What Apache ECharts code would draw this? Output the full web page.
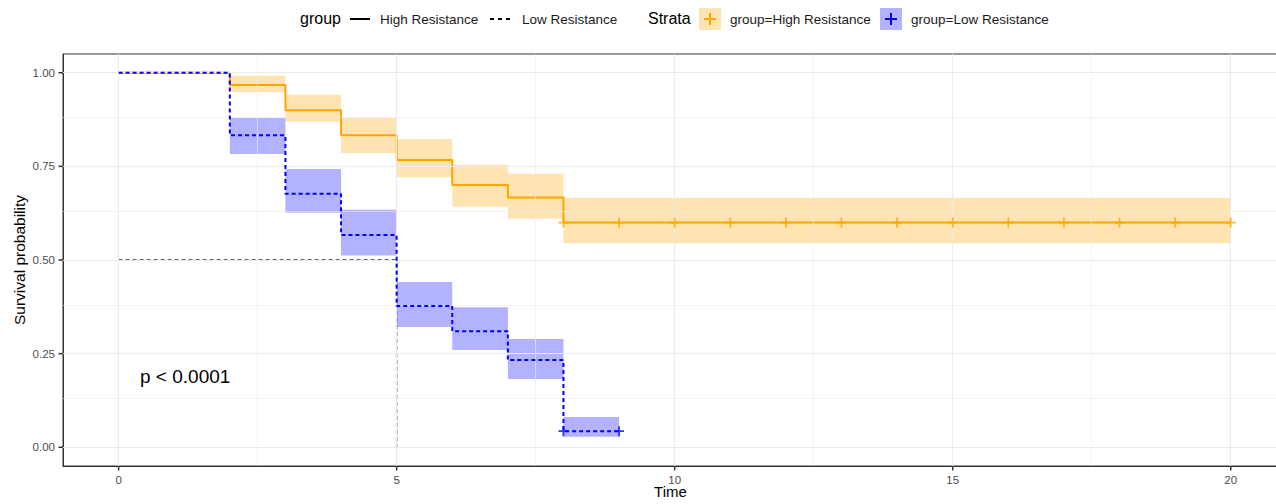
<!DOCTYPE html>
<html>
<head>
<meta charset="utf-8">
<script src="https://cdn.jsdelivr.net/npm/echarts@6/dist/echarts.min.js"></script>
<style>
html,body{margin:0;padding:0;background:#fff;}
#chart{width:1276px;height:504px;}
</style>
</head>
<body>
<div id="chart"></div>
<script>
// ---- Data ----
const highTimes = [0, 2, 3, 4, 5, 6, 7, 8, 20];
const highSurv  = [1, 0.967, 0.9, 0.833, 0.767, 0.7, 0.667, 0.6, 0.6];
const highBandStart = [2, 3, 4, 5, 6, 7, 8];
const highBandEnd   = [3, 4, 5, 6, 7, 8, 20];
const highLower = [0.948, 0.869, 0.786, 0.721, 0.642, 0.610, 0.545];
const highUpper = [0.992, 0.941, 0.879, 0.823, 0.754, 0.730, 0.666];
const highCensorTimes = [8, 9, 10, 11, 12, 13, 14, 15, 16, 17, 18, 19, 20];

const lowTimes = [0, 2, 3, 4, 5, 6, 7, 8, 9];
const lowSurv  = [1, 0.833, 0.677, 0.567, 0.377, 0.31, 0.233, 0.043, 0.043];
const lowBandStart = [2, 3, 4, 5, 6, 7, 8];
const lowBandEnd   = [3, 4, 5, 6, 7, 8, 9];
const lowLower = [0.783, 0.626, 0.512, 0.321, 0.260, 0.182, 0.028];
const lowUpper = [0.879, 0.743, 0.634, 0.441, 0.374, 0.289, 0.081];
const lowCensorTimes = [8, 9];

const medianTimes = [0, 5, 5];
const medianSurv  = [0.5, 0.5, 0];

const xTicks = [0, 5, 10, 15, 20];
const xMinorTicks = [2.5, 7.5, 12.5, 17.5];
const yTicks = [0, 0.25, 0.5, 0.75, 1];
const yMinorTicks = [0.125, 0.375, 0.625, 0.875];
const pText = 'p < 0.0001';

// ---- Build ----
const FONT = '"Liberation Sans", Arial, sans-serif';
const ORANGE = '#FFA500', BLUE = '#0000FF';
const ORANGE_BAND = 'rgba(255,165,0,0.3)', BLUE_BAND = 'rgba(0,0,255,0.3)';
const X_MIN = -1, X_MAX = 20.85, Y_MIN = -0.05, Y_MAX = 1.05;
const zip = (a, b) => a.map((v, i) => [v, b[i]]);
const bands = (s, e, lo, hi) => s.map((v, i) => [v, e[i], lo[i], hi[i]]);
const PLUS = 'path://M0,4.1H10V5.9H0ZM4.1,0H5.9V10H4.1Z';

function svgIcon(inner, w, h) {
  return 'image://data:image/svg+xml;charset=utf-8,' + encodeURIComponent(
    `<svg xmlns="http://www.w3.org/2000/svg" width="${w}" height="${h}" viewBox="0 0 ${w} ${h}">${inner}</svg>`);
}
const iconSolid = svgIcon('<line x1="0" y1="11" x2="20" y2="11" stroke="#000" stroke-width="2"/>', 25, 22);
const iconDash = svgIcon('<line x1="0" y1="11" x2="21" y2="11" stroke="#000" stroke-width="2" stroke-dasharray="4 4"/>', 27, 22);
const iconHigh = svgIcon('<rect x="0" y="0" width="22" height="22" fill="#FFE4B3"/><line x1="5" y1="11" x2="17" y2="11" stroke="#FFA500" stroke-width="2"/><line x1="11" y1="5" x2="11" y2="17" stroke="#FFA500" stroke-width="2"/>', 26, 22);
const iconLow = svgIcon('<rect x="0" y="0" width="22" height="22" fill="#B3B3FF"/><line x1="5" y1="11" x2="17" y2="11" stroke="#0000FF" stroke-width="2"/><line x1="11" y1="5" x2="11" y2="17" stroke="#0000FF" stroke-width="2"/>', 26, 22);

function bandSeries(name, data, color) {
  return {
    type: 'custom', name, z: 2, silent: true,
    data,
    encode: { x: [0, 1], y: [2, 3] },
    renderItem: function (params, api) {
      const p0 = api.coord([api.value(0), api.value(3)]);
      const p1 = api.coord([api.value(1), api.value(2)]);
      return { type: 'rect', shape: { x: p0[0], y: p0[1], width: p1[0] - p0[0], height: p1[1] - p0[1] }, style: { fill: color } };
    }
  };
}

// axis tick marks, placed just outside the panel through the axis scales
function tickSeries(values, isX) {
  return {
    type: 'custom', name: isX ? 'xticks' : 'yticks', z: 10, silent: true, clip: false,
    data: values.map(v => isX ? [v, Y_MIN] : [X_MIN, v]),
    encode: { x: 0, y: 1 },
    renderItem: function (params, api) {
      const p = api.coord([api.value(0), api.value(1)]);
      const shape = isX ? { x: p[0] - 0.75, y: p[1], width: 1.5, height: 4.5 } : { x: p[0] - 4.5, y: p[1] - 0.75, width: 4.5, height: 1.5 };
      return { type: 'rect', shape, style: { fill: '#333333' } };
    }
  };
}

const gridLines = [];
xTicks.forEach(v => gridLines.push({ xAxis: v, lineStyle: { width: 1.1, color: '#EBEBEB', type: 'solid' } }));
xMinorTicks.forEach(v => gridLines.push({ xAxis: v, lineStyle: { width: 0.6, color: '#EBEBEB', type: 'solid' } }));
yTicks.forEach(v => gridLines.push({ yAxis: v, lineStyle: { width: 1.1, color: '#EBEBEB', type: 'solid' } }));
yMinorTicks.forEach(v => gridLines.push({ yAxis: v, lineStyle: { width: 0.6, color: '#EBEBEB', type: 'solid' } }));

const legendBase = {
  orient: 'horizontal', top: 8, padding: 0, itemWidth: 26, itemHeight: 22, itemGap: 0,
  selectedMode: false,
  textStyle: { fontFamily: FONT, fontSize: 13.5, color: '#1A1A1A' }
};

const axisLineStyle = { show: true, onZero: false, lineStyle: { color: '#333333', width: 1 } };

const option = {
  animation: false,
  backgroundColor: '#fff',
  textStyle: { fontFamily: FONT },
  grid: { left: 63, top: 54, right: -2, bottom: 38, show: true, borderColor: '#333333', borderWidth: 1,
    backgroundColor: 'transparent', containLabel: false, outerBoundsMode: 'none' },
  legend: [
    Object.assign({}, legendBase, { left: 350, data: [{ name: 'High Resistance', icon: iconSolid }], itemWidth: 25 }),
    Object.assign({}, legendBase, { left: 490, data: [{ name: 'Low Resistance', icon: iconDash }], itemWidth: 27 }),
    Object.assign({}, legendBase, { left: 699, data: [{ name: 'group=High Resistance', icon: iconHigh }] }),
    Object.assign({}, legendBase, { left: 880, data: [{ name: 'group=Low Resistance', icon: iconLow }] })
  ],
  graphic: [
    { type: 'text', left: 300, top: 10, style: { text: 'group', fontFamily: FONT, fontSize: 16, fill: '#000' } },
    { type: 'text', left: 648, top: 10, style: { text: 'Strata', fontFamily: FONT, fontSize: 16, fill: '#000' } },
    { type: 'text', left: 140, top: 367, z: 50, style: { text: pText, fontFamily: FONT, fontSize: 19, fill: '#000' } }
  ],
  xAxis: {
    type: 'value', min: X_MIN, max: X_MAX,
    name: 'Time', nameLocation: 'middle', nameGap: 18, nameMoveOverlap: false,
    nameTextStyle: { fontFamily: FONT, fontSize: 15, color: '#000' },
    axisLine: axisLineStyle,
    axisTick: { show: false },
    axisLabel: { customValues: xTicks, margin: 8, fontFamily: FONT, fontSize: 11.5, color: '#4D4D4D' },
    splitLine: { show: false }
  },
  yAxis: {
    type: 'value', min: Y_MIN, max: Y_MAX,
    name: 'Survival probability', nameLocation: 'middle', nameGap: 36, nameMoveOverlap: false,
    nameTextStyle: { fontFamily: FONT, fontSize: 15.5, color: '#000' },
    axisLine: axisLineStyle,
    axisTick: { show: false },
    axisLabel: { customValues: yTicks, margin: 8, fontFamily: FONT, fontSize: 11.5, color: '#4D4D4D', formatter: v => v.toFixed(2) },
    splitLine: { show: false }
  },
  series: [
    { type: 'line', name: 'gridlines', data: [], z: 1, silent: true,
      markLine: { silent: true, symbol: ['none', 'none'], label: { show: false }, animation: false,
        lineStyle: { type: 'solid' }, emphasis: { disabled: true }, data: gridLines } },
    tickSeries(xTicks, true),
    tickSeries(yTicks, false),
    { type: 'line', name: 'High Resistance', data: [], lineStyle: { color: '#000', width: 2 }, itemStyle: { color: '#000' }, showSymbol: false },
    { type: 'line', name: 'Low Resistance', data: [], lineStyle: { color: '#000', width: 2, type: [4, 4] }, itemStyle: { color: '#000' }, showSymbol: false },
    bandSeries('group=High Resistance', bands(highBandStart, highBandEnd, highLower, highUpper), ORANGE_BAND),
    bandSeries('group=Low Resistance', bands(lowBandStart, lowBandEnd, lowLower, lowUpper), BLUE_BAND),
    { type: 'line', name: 'median', data: zip(medianTimes, medianSurv), z: 3, silent: true, showSymbol: false, symbol: 'none',
      lineStyle: { color: '#333333', width: 1.4, type: [4, 3] } },
    { type: 'line', name: 'group=High Resistance', data: zip(highTimes, highSurv), step: 'end', z: 4, silent: true,
      showSymbol: false, symbol: 'none', lineStyle: { color: ORANGE, width: 2 }, itemStyle: { color: ORANGE } },
    { type: 'line', name: 'group=Low Resistance', data: zip(lowTimes, lowSurv), step: 'end', z: 5, silent: true,
      showSymbol: false, symbol: 'none', lineStyle: { color: BLUE, width: 2, type: [4, 3] }, itemStyle: { color: BLUE } },
    { type: 'scatter', name: 'group=High Resistance', data: highCensorTimes.map(t => [t, highSurv[highSurv.length - 1]]), z: 6, silent: true,
      symbol: PLUS, symbolSize: 10, itemStyle: { color: ORANGE } },
    { type: 'scatter', name: 'group=Low Resistance', data: lowCensorTimes.map(t => [t, lowSurv[lowSurv.length - 1]]), z: 6, silent: true,
      symbol: PLUS, symbolSize: 10, itemStyle: { color: BLUE } }
  ]
};

const chart = echarts.init(document.getElementById('chart'), null, { renderer: 'svg', width: 1276, height: 504 });
chart.setOption(option);
</script>
</body>
</html>
